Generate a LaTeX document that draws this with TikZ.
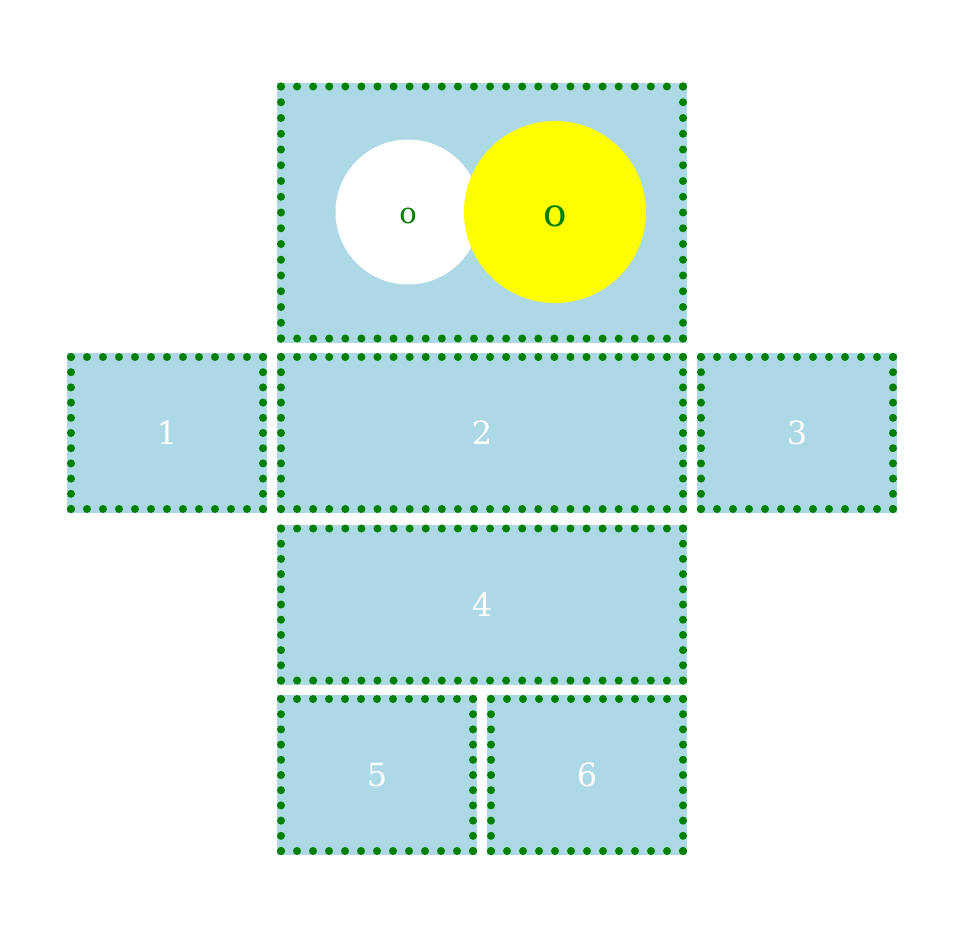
\documentclass[tikz,border=0pt]{standalone}
\usepackage{fontspec}
\setmainfont{DejaVu Serif}
\usetikzlibrary{calc}

\definecolor{lightblue}{HTML}{ADD8E6}
\definecolor{dotgreen}{HTML}{008000}
\definecolor{sunyellow}{HTML}{FFFF00}

\tikzset{
  cell/.style={rectangle, fill=lightblue, draw=lightblue, line width=4pt, inner sep=0pt, outer sep=0pt,
    text=white, font=\fontsize{16}{19}\selectfont},
  ball/.style={circle, inner sep=0pt, text=dotgreen, text depth=1pt}
}

% dotted green border: #1 node, #2 gaps along the top/bottom, #3 gaps along the sides
\newcommand{\dotframe}[3]{%
  \foreach \i in {0,...,#2} {
    \fill[dotgreen] ($(#1.north west)!\i/#2!(#1.north east)$) circle (2pt);
    \fill[dotgreen] ($(#1.south west)!\i/#2!(#1.south east)$) circle (2pt);
  }
  \foreach \i in {0,...,#3} {
    \fill[dotgreen] ($(#1.north west)!\i/#3!(#1.south west)$) circle (2pt);
    \fill[dotgreen] ($(#1.north east)!\i/#3!(#1.south east)$) circle (2pt);
  }
}

\begin{document}
\begin{tikzpicture}[x=0.5pt, y=-0.5pt]
\useasboundingbox (0,0) rectangle (977,937);

% top box with the two circles
\node[cell, minimum width=201pt, minimum height=126pt] (top) at (482,212.5) {};
\dotframe{top}{25}{16}
\node[ball, fill=white, minimum size=72.5pt, text height=12pt, font=\fontsize{14.5}{17}\selectfont] (small) at (408,212) {o};
\node[ball, fill=sunyellow, minimum size=91pt, text height=15pt, font=\fontsize{19.5}{23}\selectfont] (big) at (555,212) {o};

% numbered cells
\foreach \n/\x/\y/\w/\k in {1/167/433/96/12, 2/482/433/201/25, 3/797/433/96/12,
    4/482/604.5/201/25, 5/377/775/96/12, 6/587/775/96/12} {
  \node[cell, minimum width=\w pt, minimum height=76pt] (c\n) at (\x,\y) {\n};
  \dotframe{c\n}{\k}{10}
}
\end{tikzpicture}
\end{document}
